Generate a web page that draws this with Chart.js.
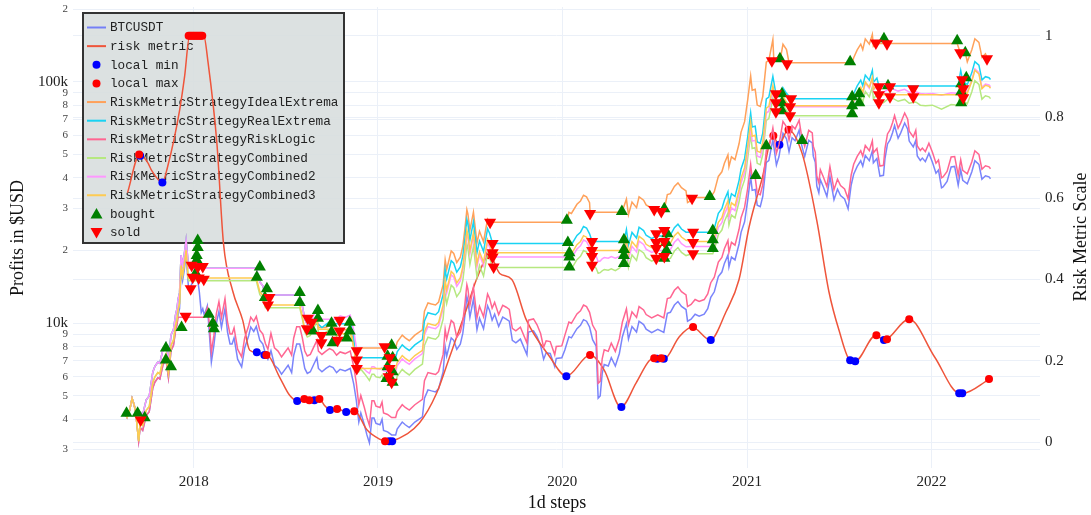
<!DOCTYPE html>
<html>
<head>
<meta charset="utf-8">
<script src="https://cdn.jsdelivr.net/npm/chart.js@4.4.0/dist/chart.umd.min.js"></script>
<style>
  html, body { margin: 0; padding: 0; background: #fff; }
  #wrap { width: 1091px; height: 515px; position: relative; }
</style>
</head>
<body>
<div id="wrap"><canvas id="chart"></canvas></div>
<script>
// price of BTCUSDT (left, log axis)
const btcusdt = [
  ['2017-08-17',4280],['2017-08-22',4080],['2017-08-27',4350],['2017-09-01',4880],['2017-09-05',4600],['2017-09-08',4300],['2017-09-14',3250],['2017-09-17',3700],['2017-09-22',3600],['2017-09-29',4150],
  ['2017-10-05',4300],['2017-10-12',5400],['2017-10-16',5700],['2017-10-22',5950],['2017-10-26',5880],['2017-11-01',6700],['2017-11-07',7100],['2017-11-12',5950],['2017-11-17',7700],['2017-11-22',8100],
  ['2017-11-26',9300],['2017-11-29',9900],['2017-12-01',10800],['2017-12-04',11500],['2017-12-07',16500],['2017-12-10',15000],['2017-12-13',16400],['2017-12-17',19100],['2017-12-22',13800],['2017-12-25',14000],
  ['2017-12-29',14700],['2018-01-03',15200],['2018-01-07',16200],['2018-01-12',13600],['2018-01-16',11100],['2018-01-19',11500],['2018-01-22',10800],['2018-01-28',11800],['2018-02-01',9100],['2018-02-05',6900],
  ['2018-02-10',8100],['2018-02-15',10000],['2018-02-20',11200],['2018-02-25',9600],['2018-03-04',11500],['2018-03-09',9200],['2018-03-14',8200],['2018-03-18',8200],['2018-03-22',8700],['2018-03-29',7100],
  ['2018-04-06',6600],['2018-04-12',7900],['2018-04-20',8900],['2018-04-24',9650],['2018-04-30',9250],['2018-05-05',9700],['2018-05-12',8500],['2018-05-18',8200],['2018-05-23',7500],['2018-05-28',7100],
  ['2018-06-03',7700],['2018-06-10',6700],['2018-06-17',6500],['2018-06-24',6150],['2018-06-30',6400],['2018-07-07',6700],['2018-07-14',6250],['2018-07-18',7350],['2018-07-24',8200],['2018-07-30',8200],
  ['2018-08-04',7400],['2018-08-09',6500],['2018-08-14',6200],['2018-08-20',6300],['2018-08-26',6700],['2018-09-02',7200],['2018-09-05',6500],['2018-09-12',6300],['2018-09-20',6500],['2018-09-27',6650],
  ['2018-10-04',6550],['2018-10-11',6250],['2018-10-18',6450],['2018-10-28',6350],['2018-11-07',6500],['2018-11-14',5600],['2018-11-19',4800],['2018-11-24',3900],['2018-11-28',4250],['2018-12-05',3800],
  ['2018-12-10',3450],['2018-12-15',3200],['2018-12-20',4050],['2018-12-24',4050],['2018-12-28',3850],['2019-01-05',3800],['2019-01-09',4000],['2019-01-12',3600],['2019-01-20',3550],['2019-01-28',3450],
  ['2019-02-05',3450],['2019-02-08',3650],['2019-02-18',3900],['2019-02-24',3800],['2019-03-04',3700],['2019-03-15',3900],['2019-03-30',4100],['2019-04-03',4900],['2019-04-10',5300],['2019-04-17',5250],
  ['2019-04-25',5200],['2019-05-01',5350],['2019-05-10',6300],['2019-05-14',8000],['2019-05-17',7300],['2019-05-26',8700],['2019-05-31',8500],['2019-06-06',7800],['2019-06-13',8200],['2019-06-18',9100],
  ['2019-06-22',10700],['2019-06-26',12900],['2019-06-28',12400],['2019-07-02',10600],['2019-07-09',12600],['2019-07-16',9400],['2019-07-21',10500],['2019-07-29',9500],['2019-08-06',11800],['2019-08-10',11300],
  ['2019-08-15',10300],['2019-08-20',10900],['2019-08-28',9700],['2019-09-05',10600],['2019-09-12',10400],['2019-09-18',10200],['2019-09-24',8500],['2019-10-01',8300],['2019-10-10',8600],['2019-10-23',7400],
  ['2019-10-26',9200],['2019-11-05',9300],['2019-11-12',8800],['2019-11-19',8100],['2019-11-25',7100],['2019-11-30',7550],['2019-12-08',7500],['2019-12-17',6620],['2019-12-20',7150],['2019-12-31',7200],
  ['2020-01-06',7750],['2020-01-14',8800],['2020-01-19',8700],['2020-01-30',9500],['2020-02-06',9800],['2020-02-12',10350],['2020-02-18',10200],['2020-02-24',9650],['2020-03-01',8550],['2020-03-08',8050],
  ['2020-03-12',4900],['2020-03-16',5000],['2020-03-20',6200],['2020-03-24',6750],['2020-04-01',6650],['2020-04-07',7200],['2020-04-15',6650],['2020-04-23',7500],['2020-04-29',8800],['2020-05-07',9980],
  ['2020-05-11',8600],['2020-05-18',9700],['2020-05-27',9200],['2020-06-01',10200],['2020-06-10',9880],['2020-06-15',9450],['2020-06-26',9150],['2020-07-08',9430],['2020-07-20',9160],['2020-07-27',11000],
  ['2020-08-02',11100],['2020-08-10',11900],['2020-08-17',12300],['2020-08-24',11750],['2020-09-02',11400],['2020-09-05',10200],['2020-09-12',10400],['2020-09-20',10900],['2020-09-28',10700],['2020-10-08',10900],
  ['2020-10-15',11500],['2020-10-21',12800],['2020-10-28',13500],['2020-11-05',15600],['2020-11-12',16300],['2020-11-17',17700],['2020-11-24',19150],['2020-11-26',17100],['2020-12-01',18800],['2020-12-08',18300],
  ['2020-12-16',21300],['2020-12-20',23800],['2020-12-27',26300],['2021-01-02',32200],['2021-01-08',40600],['2021-01-11',35500],['2021-01-17',35800],['2021-01-21',30800],['2021-01-27',30400],['2021-02-01',33500],
  ['2021-02-08',46400],['2021-02-13',47200],['2021-02-21',57500],['2021-02-28',45200],['2021-03-05',48900],['2021-03-13',61200],['2021-03-20',58100],['2021-03-25',51300],['2021-03-31',58700],['2021-04-06',57000],
  ['2021-04-14',63000],['2021-04-18',55700],['2021-04-25',49000],['2021-05-03',57200],['2021-05-10',55800],['2021-05-12',49200],['2021-05-16',46400],['2021-05-19',37000],['2021-05-23',34700],['2021-05-26',39300],
  ['2021-06-01',36700],['2021-06-08',33500],['2021-06-14',40500],['2021-06-22',32500],['2021-06-29',35900],['2021-07-05',33800],['2021-07-13',32700],['2021-07-20',29800],['2021-07-26',37300],['2021-07-31',41400],
  ['2021-08-07',44600],['2021-08-14',47100],['2021-08-18',44700],['2021-08-23',49500],['2021-08-31',47100],['2021-09-06',51700],['2021-09-08',46200],['2021-09-15',48100],['2021-09-21',40700],['2021-09-28',41000],
  ['2021-10-01',48100],['2021-10-06',55300],['2021-10-11',57400],['2021-10-16',61500],['2021-10-20',65900],['2021-10-27',58400],['2021-11-01',61300],['2021-11-09',67500],['2021-11-15',63600],['2021-11-18',56800],
  ['2021-11-26',53700],['2021-12-01',57200],['2021-12-04',49300],['2021-12-10',47200],['2021-12-14',48300],['2021-12-20',46700],['2021-12-27',50600],['2022-01-03',46400],['2022-01-10',41800],['2022-01-15',43100],
  ['2022-01-21',36400],['2022-01-24',36700],['2022-02-01',38700],['2022-02-09',44400],['2022-02-16',44600],['2022-02-23',37300],['2022-02-28',43200],['2022-03-04',39100],['2022-03-13',37800],['2022-03-22',42400],
  ['2022-03-28',47100],['2022-04-05',45500],['2022-04-11',39500],['2022-04-18',40800],['2022-04-25',40400],['2022-04-28',39700]
];

// risk metric (right axis, 0..1)
const riskMetric = [
  ['2017-08-23',0.614],['2017-09-16',0.708],['2017-10-02',0.688],['2017-10-10',0.668],['2017-10-31',0.639],['2017-11-10',0.676],['2017-12-04',0.816],['2017-12-14',0.90],['2017-12-24',1.0],['2018-01-21',1.0],
  ['2018-01-29',0.939],['2018-02-16',0.735],['2018-03-01',0.489],['2018-03-19',0.373],['2018-04-08',0.300],['2018-04-22',0.226],['2018-05-06',0.221],['2018-05-22',0.214],['2018-05-26',0.214],['2018-06-20',0.160],
  ['2018-07-10',0.115],['2018-07-26',0.101],['2018-08-09',0.106],['2018-08-19',0.103],['2018-08-29',0.103],['2018-09-07',0.106],['2018-09-17',0.090],['2018-09-29',0.079],['2018-10-13',0.081],['2018-10-31',0.074],
  ['2018-11-16',0.076],['2018-12-10',0.030],['2019-01-04',0.007],['2019-01-16',0.002],['2019-01-24',0.0],['2019-01-30',0.002],['2019-03-24',0.047],['2019-04-27',0.12],['2019-05-23',0.21],['2019-06-26',0.33],
  ['2019-07-15',0.40],['2019-08-10',0.46],['2019-08-30',0.415],['2019-09-23',0.40],['2019-10-22',0.30],['2019-12-07',0.21],['2020-01-09',0.162],['2020-02-25',0.214],['2020-03-24',0.177],['2020-04-26',0.086],
  ['2020-05-26',0.145],['2020-06-21',0.20],['2020-07-01',0.206],['2020-07-07',0.205],['2020-07-15',0.206],['2020-07-21',0.205],['2020-08-19',0.258],['2020-09-14',0.283],['2020-10-20',0.251],['2020-11-20',0.32],
  ['2020-12-16',0.40],['2021-01-05',0.53],['2021-01-31',0.65],['2021-02-21',0.754],['2021-03-05',0.732],['2021-03-23',0.769],['2021-04-20',0.71],['2021-05-19',0.545],['2021-06-12',0.37],['2021-07-02',0.275],
  ['2021-07-24',0.201],['2021-08-03',0.199],['2021-09-13',0.263],['2021-09-29',0.251],['2021-10-05',0.253],['2021-11-18',0.302],['2022-01-07',0.21],['2022-02-26',0.120],['2022-03-04',0.120],['2022-04-26',0.155]
];

const localMin = [
  ['2017-09-17',0.705],['2017-10-31',0.639],['2018-05-06',0.221],['2018-05-21',0.214],['2018-07-25',0.101],['2018-08-28',0.103],['2018-09-28',0.079],['2018-10-30',0.074],['2019-01-23',0.002],['2019-01-29',0.002],
  ['2020-01-09',0.162],['2020-04-27',0.086],['2020-07-07',0.205],['2020-07-20',0.205],['2020-10-21',0.251],['2021-03-06',0.732],['2021-07-24',0.201],['2021-08-03',0.199],['2021-09-29',0.251],['2022-02-25',0.120],['2022-03-03',0.120]
];

const localMax = [
  ['2017-09-15',0.708],['2017-12-22',1.0],['2017-12-25',1.0],['2017-12-28',1.0],['2017-12-31',1.0],['2018-01-03',1.0],['2018-01-06',1.0],['2018-01-09',1.0],['2018-01-12',1.0],['2018-01-15',1.0],['2018-01-18',1.0],
  ['2018-05-25',0.214],['2018-08-08',0.106],['2018-08-18',0.103],['2018-09-07',0.106],['2018-10-12',0.081],['2018-11-15',0.076],['2019-01-15',0.002],['2019-08-09',0.46],['2020-02-25',0.214],['2020-07-01',0.206],
  ['2020-07-15',0.206],['2020-09-16',0.283],['2021-02-22',0.754],['2021-03-24',0.769],['2021-09-14',0.263],['2021-10-05',0.253],['2021-11-18',0.302],['2022-04-25',0.155]
];

const idealExtrema = [
  ['2017-08-17',4280],['2017-08-22',4080],['2017-08-27',4350],['2017-09-01',4880],['2017-09-05',4600],['2017-09-08',4300],['2017-09-17',4300],['2017-09-22',4180],['2017-09-29',4820],['2017-10-05',5000],
  ['2017-10-12',6270],['2017-10-16',6620],['2017-10-22',6910],['2017-10-26',6830],['2017-11-01',7790],['2017-11-07',8250],['2017-11-12',6910],['2017-11-17',8950],['2017-11-22',9410],['2017-11-26',10810],
  ['2017-11-29',11500],['2017-12-01',12550],['2017-12-04',13360],['2017-12-07',19170],['2017-12-10',17430],['2017-12-13',19060],['2017-12-17',22190],['2017-12-22',16900],
  ['2018-05-05',16900],['2018-05-12',14810],['2018-05-18',14290],['2018-05-23',13100],
  ['2018-07-24',13100],['2018-07-30',13100],['2018-08-04',11820],['2018-08-09',10390],['2018-08-14',9900],['2018-08-26',9900],['2018-09-02',10640],['2018-09-05',9600],['2018-09-20',9600],['2018-09-27',9820],
  ['2018-10-04',9670],['2018-10-11',9230],['2018-10-18',9530],['2018-10-28',9380],['2018-11-07',9600],['2018-11-14',8270],['2018-11-15',7900],
  ['2019-02-05',7900],['2019-02-08',8360],['2019-02-18',8930],['2019-02-24',8700],['2019-03-04',8470],['2019-03-15',8930],['2019-03-30',9390],['2019-04-03',11220],['2019-04-10',12140],['2019-04-17',12020],
  ['2019-04-25',11910],['2019-05-01',12250],['2019-05-10',14430],['2019-05-14',18320],['2019-05-17',16720],['2019-05-26',19920],['2019-05-31',19470],['2019-06-06',17860],['2019-06-13',18780],['2019-06-18',20840],
  ['2019-06-22',24500],['2019-06-26',29540],['2019-06-28',28400],['2019-07-02',24270],['2019-07-09',28850],['2019-07-16',21530],['2019-07-21',24050],['2019-07-29',21760],['2019-08-06',27020],['2019-08-11',26200],
  ['2020-01-10',26200],['2020-01-14',28820],['2020-01-19',28490],['2020-01-30',31110],['2020-02-06',32100],['2020-02-12',33900],['2020-02-18',33400],['2020-02-24',31600],['2020-02-25',28800],
  ['2020-04-28',28800],['2020-05-07',32660],['2020-05-11',28150],['2020-05-18',31750],['2020-05-27',30110],['2020-06-01',33380],['2020-06-10',32340],['2020-06-15',30930],['2020-06-26',29950],['2020-07-01',29600],
  ['2020-07-21',29600],['2020-07-27',34100],['2020-08-02',34410],['2020-08-10',36890],['2020-08-17',38130],['2020-08-24',36430],['2020-09-02',35340],['2020-09-05',31620],['2020-09-12',32240],['2020-09-14',33200],
  ['2020-10-19',33200],['2020-10-21',33280],['2020-10-28',35100],['2020-11-05',40560],['2020-11-12',42380],['2020-11-17',46020],['2020-11-24',49790],['2020-11-26',44460],['2020-12-01',48880],['2020-12-08',47580],
  ['2020-12-16',55380],['2020-12-20',61880],['2020-12-27',68380],['2021-01-02',83720],['2021-01-08',105560],['2021-01-11',92300],['2021-01-17',93080],['2021-01-21',80080],['2021-01-27',79040],['2021-02-01',87100],
  ['2021-02-08',120640],['2021-02-13',122720],['2021-02-21',149500],['2021-02-23',122000],
  ['2021-03-07',122000],['2021-03-13',143000],['2021-03-20',136000],['2021-03-25',120000],
  ['2021-07-28',120000],['2021-07-31',125800],['2021-08-07',135600],['2021-08-14',143200],['2021-08-18',135900],['2021-08-23',150500],['2021-08-31',143200],['2021-09-06',157200],['2021-09-08',140400],['2021-09-13',144000],
  ['2022-02-21',144000],['2022-02-23',140000],['2022-02-27',132000],['2022-03-09',132000],['2022-03-13',121000],['2022-03-22',135700],['2022-03-28',150700],['2022-04-05',145600],['2022-04-11',126400],['2022-04-18',130600],
  ['2022-04-21',126000],['2022-04-28',126000]
];

const realExtrema = [
  ['2017-08-17',4280],['2017-08-22',4080],['2017-08-27',4350],['2017-09-01',4880],['2017-09-05',4600],['2017-09-08',4300],['2017-09-17',4300],['2017-09-22',4180],['2017-09-29',4820],['2017-10-05',5000],
  ['2017-10-12',6270],['2017-10-16',6620],['2017-10-22',6910],['2017-10-26',6830],['2017-11-01',7790],['2017-11-07',8250],['2017-11-12',6910],['2017-11-17',8950],['2017-11-22',9410],['2017-11-26',10810],
  ['2017-11-29',11500],['2017-12-01',12550],['2017-12-04',13360],['2017-12-07',19170],['2017-12-10',17430],['2017-12-13',19060],['2017-12-17',22190],['2017-12-22',16900],
  ['2018-05-05',16900],['2018-05-12',14810],['2018-05-18',14290],['2018-05-23',13100],
  ['2018-07-24',13100],['2018-07-30',13100],['2018-08-04',11820],['2018-08-09',10390],['2018-08-14',9900],['2018-09-05',9900],['2018-09-12',9600],['2018-09-20',9900],['2018-09-27',10130],['2018-10-01',9950],
  ['2018-10-28',9950],['2018-11-07',10190],['2018-11-14',8780],['2018-11-17',7200],
  ['2019-01-30',7200],['2019-02-05',7200],['2019-02-08',7620],['2019-02-18',8140],['2019-02-24',7930],['2019-03-04',7720],['2019-03-15',8140],['2019-03-30',8560],['2019-04-03',10230],['2019-04-10',11060],
  ['2019-04-17',10960],['2019-04-25',10850],['2019-05-01',11170],['2019-05-10',13150],['2019-05-14',16700],['2019-05-17',15240],['2019-05-26',18160],['2019-05-31',17740],['2019-06-06',16280],['2019-06-13',17110],
  ['2019-06-18',18990],['2019-06-22',22330],['2019-06-26',26920],['2019-06-28',25880],['2019-07-02',22120],['2019-07-09',26300],['2019-07-16',19620],['2019-07-21',21910],['2019-07-29',19830],['2019-08-06',24630],
  ['2019-08-10',23580],['2019-08-16',21400],
  ['2020-01-14',21400],['2020-01-19',21160],['2020-01-30',23100],['2020-02-06',23830],['2020-02-12',25170],['2020-02-18',24810],['2020-02-24',23470],['2020-02-29',21800],
  ['2020-05-02',21800],['2020-05-07',24450],['2020-05-11',21070],['2020-05-18',23770],['2020-05-27',22540],['2020-06-01',24990],['2020-06-10',24210],['2020-06-15',23150],['2020-06-26',22420],['2020-07-05',23000],
  ['2020-07-27',23000],['2020-08-02',23200],['2020-08-10',24870],['2020-08-17',25710],['2020-08-24',24560],['2020-09-02',23830],['2020-09-14',23800],
  ['2020-10-25',23800],['2020-10-28',24710],['2020-11-05',28550],['2020-11-12',29830],['2020-11-17',32390],['2020-11-24',35040],['2020-11-26',31290],['2020-12-01',34400],['2020-12-08',33490],['2020-12-16',38980],
  ['2020-12-20',43550],['2020-12-27',48130],['2021-01-02',58930],['2021-01-08',74300],['2021-01-11',64970],['2021-01-17',65510],['2021-01-21',56360],['2021-01-27',55630],['2021-02-01',61310],['2021-02-08',84910],
  ['2021-02-13',86380],['2021-02-21',105200],['2021-02-27',89200],
  ['2021-03-11',89200],['2021-03-13',94400],['2021-03-20',89600],['2021-03-29',85100],
  ['2021-07-28',85100],['2021-07-31',89200],['2021-08-07',96100],['2021-08-14',101500],['2021-08-18',96300],['2021-08-23',106600],['2021-08-31',101500],['2021-09-06',111400],['2021-09-08',99500],['2021-09-15',103600],
  ['2021-09-19',96000],
  ['2022-02-23',96000],['2022-02-28',111200],['2022-03-04',100600],['2022-03-13',97300],['2022-03-22',109100],['2022-03-28',121200],['2022-04-05',117100],['2022-04-11',101700],['2022-04-18',105000],['2022-04-25',104000],
  ['2022-04-28',102200]
];

const riskLogic = [
  ['2017-08-17',4280],['2017-08-22',4080],['2017-08-27',4350],['2017-09-01',4880],['2017-09-05',4600],['2017-09-08',4300],['2017-09-14',3250],['2017-09-17',3700],['2017-09-22',3600],['2017-09-29',4150],
  ['2017-10-05',4300],['2017-10-12',5400],['2017-10-16',5700],['2017-10-22',5950],['2017-10-26',5880],['2017-11-01',6700],['2017-11-07',7100],['2017-11-12',5950],['2017-11-17',7700],['2017-11-22',8100],
  ['2017-11-26',9300],['2017-11-29',9900],['2017-12-01',10600],['2018-01-22',10600],['2018-01-28',11580],['2018-02-01',10000],['2018-02-05',7590],['2018-02-10',8910],['2018-02-15',11000],['2018-02-20',12300],
  ['2018-02-25',10560],['2018-03-04',12650],['2018-03-09',10120],['2018-03-14',9020],['2018-03-18',9020],['2018-03-22',9570],['2018-03-29',7810],['2018-04-06',7260],['2018-04-12',8690],['2018-04-20',9790],
  ['2018-04-24',10600],['2018-04-30',10180],['2018-05-05',10670],['2018-05-12',9350],['2018-05-18',9020],['2018-05-23',8250],['2018-05-28',7810],['2018-06-03',9090],['2018-06-10',7910],['2018-06-17',7670],
  ['2018-06-24',7260],['2018-06-30',7550],['2018-07-07',7910],['2018-07-14',7380],['2018-07-18',8670],['2018-07-24',9680],['2018-07-30',9680],['2018-08-04',8730],['2018-08-09',7670],['2018-08-14',7320],
  ['2018-08-20',7430],['2018-08-26',7910],['2018-09-02',8500],['2018-09-05',7670],['2018-09-12',7430],['2018-09-20',7670],['2018-09-27',7850],['2018-10-04',7730],['2018-10-11',7380],['2018-10-18',7610],
  ['2018-10-28',7490],['2018-11-07',7670],['2018-11-14',6610],['2018-11-19',5660],['2018-11-24',4600],['2018-11-28',5020],['2018-12-05',4480],['2018-12-10',4070],['2018-12-15',3780],['2018-12-20',4780],
  ['2018-12-24',4780],['2018-12-28',4540],['2019-01-05',4480],['2019-01-09',4720],['2019-01-12',4250],['2019-01-20',4190],['2019-01-28',4070],['2019-02-05',4070],['2019-02-08',4310],['2019-02-18',4600],
  ['2019-02-24',4480],['2019-03-04',4370],['2019-03-15',4600],['2019-03-30',4840],['2019-04-03',5780],['2019-04-10',6250],['2019-04-17',6200],['2019-04-25',6140],['2019-05-01',6310],['2019-05-10',7430],
  ['2019-05-14',9440],['2019-05-17',8610],['2019-05-26',10270],['2019-05-31',10030],['2019-06-06',8740],['2019-06-13',9180],['2019-06-18',10190],['2019-06-22',11980],['2019-06-26',14450],['2019-06-28',13890],
  ['2019-07-02',11870],['2019-07-09',14110],['2019-07-16',10530],['2019-07-21',11760],['2019-07-29',10640],['2019-08-06',13220],['2019-08-10',12660],['2019-08-15',11540],['2019-08-20',12210],['2019-08-28',10860],
  ['2019-09-05',11870],['2019-09-12',11650],['2019-09-18',11420],['2019-09-24',9520],['2019-10-01',9300],['2019-10-10',9630],['2019-10-23',8290],['2019-10-26',10300],['2019-11-05',10420],['2019-11-12',9860],
  ['2019-11-19',9070],['2019-11-25',7950],['2019-11-30',8460],['2019-12-08',8400],['2019-12-17',7410],['2019-12-20',8010],['2019-12-31',8060],['2020-01-06',8910],['2020-01-14',10120],['2020-01-19',10000],
  ['2020-01-30',10930],['2020-02-06',11270],['2020-02-12',11900],['2020-02-18',11730],['2020-02-24',11100],['2020-03-01',9830],['2020-03-08',9260],['2020-03-12',5640],['2020-03-16',5750],['2020-03-20',7130],
  ['2020-03-24',7760],['2020-04-01',7650],['2020-04-07',8280],['2020-04-15',7650],['2020-04-23',8630],['2020-04-29',10120],['2020-05-07',11480],['2020-05-11',9890],['2020-05-18',11160],['2020-05-27',10580],
  ['2020-06-01',11730],['2020-06-10',11360],['2020-06-15',10870],['2020-06-26',10520],['2020-07-08',10840],['2020-07-20',10530],['2020-07-27',12650],['2020-08-02',12770],['2020-08-10',13690],['2020-08-17',14150],
  ['2020-08-24',13510],['2020-09-02',13110],['2020-09-05',11730],['2020-09-12',11960],['2020-09-20',12540],['2020-09-28',12310],['2020-10-08',12540],['2020-10-15',13230],['2020-10-21',14720],['2020-10-28',15530],
  ['2020-11-05',17940],['2020-11-12',18750],['2020-11-17',20360],['2020-11-24',22020],['2020-11-26',19670],['2020-12-01',21620],['2020-12-08',21050],['2020-12-16',24500],['2020-12-20',27370],['2020-12-27',30250],
  ['2021-01-02',36060],['2021-01-08',45470],['2021-01-11',39760],['2021-01-17',40100],['2021-01-21',34500],['2021-01-27',34050],['2021-02-01',37520],['2021-02-08',51970],['2021-02-13',52860],['2021-02-21',64400],
  ['2021-02-28',50620],['2021-03-05',54770],['2021-03-13',68540],['2021-03-20',65070],['2021-03-25',57460],['2021-03-31',65740],['2021-04-06',63840],['2021-04-14',69300],['2021-04-18',61270],['2021-04-25',53900],
  ['2021-05-03',62920],['2021-05-10',61380],['2021-05-12',54120],['2021-05-16',51040],['2021-05-19',40700],['2021-05-23',38170],['2021-05-26',43230],['2021-06-01',40370],['2021-06-08',36850],['2021-06-14',44550],
  ['2021-06-22',35750],['2021-06-29',39490],['2021-07-05',37180],['2021-07-13',35970],['2021-07-20',32780],['2021-07-26',41030],['2021-07-31',45540],['2021-08-07',49060],['2021-08-14',51810],['2021-08-18',49170],
  ['2021-08-23',54450],['2021-08-31',51810],['2021-09-06',56870],['2021-09-08',50820],['2021-09-15',52910],['2021-09-21',44770],['2021-09-28',45100],['2021-10-01',52910],['2021-10-06',60830],['2021-10-11',63140],
  ['2021-10-16',67650],['2021-10-20',72490],['2021-10-27',64240],['2021-11-01',67430],['2021-11-09',74250],['2021-11-15',69960],['2021-11-18',62480],['2021-11-26',59070],['2021-12-01',62920],['2021-12-04',54230],
  ['2021-12-10',51920],['2021-12-14',53130],['2021-12-20',51370],['2021-12-27',55660],['2022-01-03',51040],['2022-01-10',45980],['2022-01-15',47410],['2022-01-21',40040],['2022-01-24',40370],['2022-02-01',42570],
  ['2022-02-09',48840],['2022-02-16',49060],['2022-02-23',41030],['2022-02-28',47520],['2022-03-04',43010],['2022-03-13',41580],['2022-03-22',46640],['2022-03-28',51810],['2022-04-05',50050],['2022-04-11',43450],
  ['2022-04-18',44880],['2022-04-25',44440],['2022-04-28',43670]
];

const combined = [
  ['2017-08-17',4280],['2017-08-22',4080],['2017-08-27',4350],['2017-09-01',4880],['2017-09-05',4600],['2017-09-08',4300],['2017-09-14',3250],['2017-09-17',3890],['2017-09-22',3780],['2017-09-29',4360],
  ['2017-10-05',4520],['2017-10-12',5670],['2017-10-16',5990],['2017-10-22',6250],['2017-10-26',6170],['2017-11-01',7040],['2017-11-07',7460],['2017-11-12',6250],['2017-11-17',8090],['2017-11-22',8510],
  ['2017-11-26',9770],['2017-11-29',10400],['2017-12-01',11340],['2017-12-04',12080],['2017-12-07',17330],['2017-12-10',15750],['2017-12-13',17220],['2017-12-17',20060],['2017-12-22',15000],
  ['2018-05-05',15000],['2018-05-12',13140],['2018-05-18',12680],['2018-05-23',11600],
  ['2018-07-24',11600],['2018-07-30',11600],['2018-08-04',10470],['2018-08-09',9200],['2018-08-14',8770],['2018-08-20',8910],['2018-08-26',9480],['2018-09-02',10190],['2018-09-05',9200],['2018-09-12',8920],
  ['2018-09-20',9200],['2018-09-27',9410],['2018-10-04',9270],['2018-10-11',8850],['2018-10-18',9130],['2018-10-28',8990],['2018-11-07',9200],['2018-11-14',7930],['2018-11-19',6800],['2018-11-24',6300],
  ['2018-11-28',6450],['2018-12-05',6200],['2018-12-10',6000],['2018-12-15',5800],['2018-12-20',6150],['2018-12-24',6150],['2018-12-28',6000],['2019-01-05',5950],['2019-01-09',6100],['2019-01-12',5800],
  ['2019-01-20',5750],['2019-01-28',5700],
  ['2019-02-05',5700],['2019-02-08',6030],['2019-02-18',6440],['2019-02-24',6280],['2019-03-04',6110],['2019-03-15',6440],['2019-03-30',6770],['2019-04-03',8090],['2019-04-10',8760],['2019-04-17',8670],
  ['2019-04-25',8590],['2019-05-01',8840],['2019-05-10',10410],['2019-05-14',13220],['2019-05-17',12060],['2019-05-26',14370],['2019-05-31',14040],['2019-06-06',12890],['2019-06-13',13550],['2019-06-18',15030],
  ['2019-06-22',17680],['2019-06-26',21310],['2019-06-28',20480],['2019-07-02',17510],['2019-07-09',20810],['2019-07-16',15530],['2019-07-21',17350],['2019-07-29',15690],['2019-08-06',19490],['2019-08-10',18670],
  ['2019-08-16',17000],
  ['2020-01-14',17000],['2020-01-19',16810],['2020-01-30',18350],['2020-02-06',18930],['2020-02-12',20000],['2020-02-18',19710],['2020-02-24',18640],['2020-02-29',17400],['2020-03-08',16900],['2020-03-12',16100],
  ['2020-03-16',16200],['2020-03-20',16500],['2020-03-24',16700],['2020-04-01',16600],['2020-04-07',16800],['2020-04-15',16500],['2020-04-23',16900],['2020-05-02',17600],['2020-05-07',19740],['2020-05-11',17010],
  ['2020-05-18',19190],['2020-05-27',18200],['2020-06-01',20170],['2020-06-10',19540],['2020-06-15',18690],['2020-06-26',18100],['2020-07-05',18400],
  ['2020-07-27',18400],['2020-08-02',18570],['2020-08-10',19910],['2020-08-17',20580],['2020-08-24',19660],['2020-09-02',19070],['2020-09-14',19400],
  ['2020-10-25',19400],['2020-10-28',20140],['2020-11-05',23280],['2020-11-12',24320],['2020-11-17',26410],['2020-11-24',28570],['2020-11-26',25510],['2020-12-01',28050],['2020-12-08',27300],['2020-12-16',31780],
  ['2020-12-20',35510],['2020-12-27',39240],['2021-01-02',48040],['2021-01-08',60580],['2021-01-11',52970],['2021-01-17',53410],['2021-01-21',45950],['2021-01-27',45360],['2021-02-01',49980],['2021-02-08',69230],
  ['2021-02-13',70420],['2021-02-21',85790],['2021-02-27',75200],
  ['2021-03-11',75200],['2021-03-13',80300],['2021-03-20',76200],['2021-03-27',72400],
  ['2021-07-28',72400],['2021-07-31',76180],['2021-08-07',82060],['2021-08-14',86660],['2021-08-18',82250],['2021-08-23',91080],['2021-08-31',86660],['2021-09-06',95130],['2021-09-08',85010],['2021-09-15',88500],
  ['2021-09-19',83000],['2021-09-28',82000],['2021-10-06',84500],['2021-10-16',85500],['2021-10-27',83000],['2021-11-09',84500],['2021-11-18',81500],['2021-12-01',82500],['2021-12-10',80000],['2021-12-20',79500],
  ['2022-01-03',80000],['2022-01-21',77000],['2022-02-09',80500],['2022-02-23',80000],['2022-02-28',92660],['2022-03-04',83870],['2022-03-13',81080],['2022-03-22',90950],['2022-03-28',101000],['2022-04-05',97600],
  ['2022-04-11',84730],['2022-04-18',87520],['2022-04-25',86660],['2022-04-28',85160]
];

const combined2 = [
  ['2017-08-17',4280],['2017-08-22',4080],['2017-08-27',4350],['2017-09-01',4880],['2017-09-05',4600],['2017-09-08',4300],['2017-09-17',4300],['2017-09-22',4180],['2017-09-29',4820],['2017-10-05',5000],
  ['2017-10-12',6270],['2017-10-16',6620],['2017-10-22',6910],['2017-10-26',6830],['2017-11-01',7790],['2017-11-07',8250],['2017-11-12',6910],['2017-11-17',8950],['2017-11-22',9410],['2017-11-26',10810],
  ['2017-11-29',11500],['2017-12-01',12550],['2017-12-04',13360],['2017-12-07',19170],['2017-12-10',17430],['2017-12-13',19060],['2017-12-17',22190],['2017-12-22',16900],
  ['2018-05-05',16900],['2018-05-12',14810],['2018-05-18',14290],['2018-05-23',13100],
  ['2018-07-24',13100],['2018-07-30',13100],['2018-08-04',11820],['2018-08-09',10390],['2018-08-14',9920],['2018-08-20',10080],['2018-08-26',10720],['2018-09-02',11520],['2018-09-05',10400],['2018-10-11',10400],
  ['2018-10-18',10730],['2018-10-28',10570],['2018-11-07',10820],['2018-11-14',9320],['2018-11-19',7990],['2018-11-24',6500],['2018-11-28',6650],['2018-12-05',6450],['2018-12-10',6300],['2018-12-15',6200],
  ['2018-12-20',6600],['2018-12-24',6600],['2018-12-28',6500],['2019-01-05',6450],['2019-01-09',6550],['2019-01-12',6350],['2019-01-20',6300],['2019-01-28',6300],
  ['2019-02-05',6300],['2019-02-08',6670],['2019-02-18',7120],['2019-02-24',6940],['2019-03-04',6760],['2019-03-15',7120],['2019-03-30',7490],['2019-04-03',8950],['2019-04-10',9680],['2019-04-17',9590],
  ['2019-04-25',9500],['2019-05-01',9770],['2019-05-10',11500],['2019-05-14',14610],['2019-05-17',13330],['2019-05-26',15890],['2019-05-31',15520],['2019-06-06',14240],['2019-06-13',14970],['2019-06-18',16620],
  ['2019-06-22',19540],['2019-06-26',23560],['2019-06-28',22640],['2019-07-02',19360],['2019-07-09',23010],['2019-07-16',17160],['2019-07-21',19170],['2019-07-29',17350],['2019-08-06',21550],['2019-08-10',20630],
  ['2019-08-16',18800],
  ['2020-01-14',18800],['2020-01-19',18590],['2020-01-30',20290],['2020-02-06',20930],['2020-02-12',22110],['2020-02-18',21790],['2020-02-24',20610],['2020-02-29',19300],['2020-03-08',19000],['2020-03-12',18000],
  ['2020-03-16',18100],['2020-03-20',18500],['2020-03-24',18700],['2020-04-01',18600],['2020-04-07',18900],['2020-04-15',18600],['2020-04-23',18900],['2020-05-02',19100],['2020-05-07',21420],['2020-05-11',18460],
  ['2020-05-18',20820],['2020-05-27',19740],['2020-06-01',21890],['2020-06-10',21200],['2020-06-15',20280],['2020-06-26',19640],['2020-07-05',20000],
  ['2020-07-27',20000],['2020-08-02',20180],['2020-08-10',21640],['2020-08-17',22360],['2020-08-24',21360],['2020-09-02',20730],['2020-09-14',20800],
  ['2020-10-25',20800],['2020-10-28',21600],['2020-11-05',24960],['2020-11-12',26080],['2020-11-17',28320],['2020-11-24',30640],['2020-11-26',27360],['2020-12-01',30080],['2020-12-08',29280],['2020-12-16',34080],
  ['2020-12-20',38080],['2020-12-27',42080],['2021-01-02',51520],['2021-01-08',64960],['2021-01-11',56800],['2021-01-17',57280],['2021-01-21',49280],['2021-01-27',48640],['2021-02-01',53600],['2021-02-08',74240],
  ['2021-02-13',75520],['2021-02-21',92000],['2021-02-27',81000],
  ['2021-03-11',81000],['2021-03-13',85800],['2021-03-20',81400],['2021-03-27',78800],
  ['2021-07-28',78800],['2021-07-31',82590],['2021-08-07',88980],['2021-08-14',93970],['2021-08-18',89180],['2021-08-23',98750],['2021-08-31',93970],['2021-09-06',103100],['2021-09-08',92170],['2021-09-15',95960],
  ['2021-09-19',91000],['2021-09-28',90500],['2021-10-06',92500],['2021-10-16',93500],['2021-10-27',91500],['2021-11-09',93000],['2021-11-18',90500],['2021-12-01',91000],['2021-12-10',89500],['2021-12-20',89000],
  ['2022-01-03',89500],['2022-01-21',88000],['2022-02-09',90000],['2022-02-23',89500],['2022-02-28',103700],['2022-03-04',93840],['2022-03-13',90720],['2022-03-22',101800],['2022-03-28',113000],['2022-04-05',109200],
  ['2022-04-11',94800],['2022-04-18',97920],['2022-04-25',96960],['2022-04-28',95280]
];

const combined3 = [
  ['2017-08-17',4280],['2017-08-22',4080],['2017-08-27',4350],['2017-09-01',4880],['2017-09-05',4600],['2017-09-08',4300],['2017-09-14',3250],['2017-09-17',3890],['2017-09-22',3780],['2017-09-29',4360],
  ['2017-10-05',4520],['2017-10-12',5670],['2017-10-16',5990],['2017-10-22',6250],['2017-10-26',6170],['2017-11-01',7040],['2017-11-07',7460],['2017-11-12',6250],['2017-11-17',8090],['2017-11-22',8510],
  ['2017-11-26',9770],['2017-11-29',10400],['2017-12-01',11340],['2017-12-04',12080],['2017-12-07',17330],['2017-12-10',15750],['2017-12-13',17220],['2017-12-17',20060],['2017-12-21',15400],
  ['2018-05-05',15400],['2018-05-12',13500],['2018-05-18',13020],['2018-05-23',11900],
  ['2018-07-24',11900],['2018-07-30',11900],['2018-08-04',10740],['2018-08-09',9430],['2018-08-14',9000],['2018-08-20',9150],['2018-08-26',9730],['2018-09-02',10450],['2018-09-05',9440],['2018-09-27',9440],
  ['2018-10-04',9300],['2018-10-11',8880],['2018-10-18',9160],['2018-10-28',9020],['2018-11-07',9230],['2018-11-14',7950],['2018-11-19',6800],['2018-11-20',6500],
  ['2019-01-30',6500],['2019-02-05',6500],['2019-02-08',6880],['2019-02-18',7350],['2019-02-24',7160],['2019-03-04',6970],['2019-03-15',7350],['2019-03-30',7720],['2019-04-03',9230],['2019-04-10',9990],
  ['2019-04-17',9890],['2019-04-25',9800],['2019-05-01',10080],['2019-05-10',11870],['2019-05-14',15070],['2019-05-17',13750],['2019-05-26',16390],['2019-05-31',16010],['2019-06-06',14700],['2019-06-13',15450],
  ['2019-06-18',17140],['2019-06-22',20160],['2019-06-26',24300],['2019-06-28',23360],['2019-07-02',19970],['2019-07-09',23740],['2019-07-16',17710],['2019-07-21',19780],['2019-07-29',17900],['2019-08-06',22230],
  ['2019-08-10',21290],['2019-08-16',19600],
  ['2020-01-14',19600],['2020-01-19',19380],['2020-01-30',21160],['2020-02-06',21820],['2020-02-12',23050],['2020-02-18',22720],['2020-02-24',21490],['2020-02-29',20000],
  ['2020-05-02',20000],['2020-05-07',22430],['2020-05-11',19330],['2020-05-18',21800],['2020-05-27',20670],['2020-06-01',22920],['2020-06-10',22200],['2020-06-15',21230],['2020-06-26',20560],['2020-07-05',21300],
  ['2020-07-27',21300],['2020-08-02',21490],['2020-08-10',23040],['2020-08-17',23810],['2020-08-24',22750],['2020-09-02',22070],['2020-09-14',21800],
  ['2020-10-25',21800],['2020-10-28',22640],['2020-11-05',26160],['2020-11-12',27340],['2020-11-17',29680],['2020-11-24',32110],['2020-11-26',28680],['2020-12-01',31530],['2020-12-08',30690],['2020-12-16',35720],
  ['2020-12-20',39910],['2020-12-27',44100],['2021-01-02',54000],['2021-01-08',68090],['2021-01-11',59530],['2021-01-17',60040],['2021-01-21',51650],['2021-01-27',50980],['2021-02-01',56180],['2021-02-08',77810],
  ['2021-02-13',79150],['2021-02-21',96430],['2021-02-27',81900],
  ['2021-03-11',81900],['2021-03-13',86700],['2021-03-20',82300],['2021-03-27',79600],
  ['2021-07-28',79600],['2021-07-31',83420],['2021-08-07',89870],['2021-08-14',94910],['2021-08-18',90070],['2021-08-23',99740],['2021-08-31',94910],['2021-09-06',104200],['2021-09-08',93090],['2021-09-15',96920],
  ['2021-09-19',88400],
  ['2022-02-23',88400],['2022-02-28',102400],['2022-03-04',92670],['2022-03-13',89590],['2022-03-22',100500],['2022-03-28',111600],['2022-04-05',107800],['2022-04-11',93620],['2022-04-18',96700],['2022-04-25',95750],
  ['2022-04-28',94090]
];

const bought = [
  ['2017-08-21',4240],['2017-09-12',4240],['2017-09-26',4060],['2017-11-07',7900],['2017-11-07',7050],['2017-11-17',6600],['2017-12-08',9600],['2018-01-05',16100],['2018-01-07',18300],['2018-01-07',19100],
  ['2018-01-09',20600],['2018-01-09',22000],['2018-01-31',10900],['2018-02-08',10000],['2018-02-10',9500],['2018-05-06',15500],['2018-05-12',17100],['2018-05-22',12800],['2018-05-26',13900],['2018-07-30',13400],
  ['2018-07-30',12200],['2018-08-25',9300],['2018-09-04',11300],['2018-09-04',10500],['2018-10-01',10000],['2018-10-01',9200],['2018-10-03',8300],['2018-10-31',8700],['2018-11-06',10100],['2018-11-06',9300],
  ['2019-01-18',5900],['2019-01-20',7300],['2019-01-20',6600],['2019-01-28',8100],['2019-01-30',7200],['2019-01-30',6300],['2019-01-30',5700],
  ['2020-01-10',26700],['2020-01-12',21600],['2020-01-15',19600],['2020-01-15',18800],['2020-01-15',17100],['2020-04-28',29000],['2020-05-02',22200],['2020-05-02',20200],['2020-05-02',19100],['2020-05-02',17700],
  ['2020-07-21',29800],['2020-07-21',18600],['2020-07-25',21600],['2020-07-25',20000],['2020-07-27',23500],['2020-10-19',33500],['2020-10-25',24200],['2020-10-25',22200],['2020-10-25',20400],
  ['2021-01-18',40900],['2021-02-08',54400],['2021-03-07',124500],['2021-03-11',89200],['2021-03-11',81900],['2021-03-11',75900],['2021-04-20',57100],['2021-07-24',120900],['2021-07-28',86700],['2021-07-28',79600],
  ['2021-07-28',73800],['2021-08-11',89200],['2021-08-11',81900],['2021-09-29',150600],['2021-10-07',96300],['2022-02-21',147700],['2022-03-01',98100],['2022-03-01',91000],['2022-03-01',81900],['2022-03-09',131800],
  ['2022-03-11',103900]
];

const sold = [
  ['2017-09-18',3980],['2017-12-16',10700],['2017-12-26',13900],['2017-12-28',17400],['2017-12-30',15500],['2018-01-09',17100],['2018-01-11',15400],['2018-01-19',17200],['2018-01-21',15200],
  ['2018-05-28',11900],['2018-05-31',12800],['2018-08-13',9500],['2018-08-15',10500],['2018-08-23',10100],['2018-09-11',8900],['2018-09-11',8300],['2018-10-13',8500],['2018-10-17',10300],['2018-10-17',9300],
  ['2018-11-20',7700],['2018-11-20',7050],['2018-11-20',6500],['2019-01-14',8000],['2019-01-22',6000],['2019-01-24',7200],['2019-01-24',6500],['2019-01-28',5700],
  ['2019-08-11',26200],['2019-08-16',21400],['2019-08-16',19600],['2019-08-16',18800],['2019-08-18',17100],
  ['2020-02-25',28500],['2020-02-29',21800],['2020-02-29',20000],['2020-02-29',18900],['2020-02-29',17400],
  ['2020-07-01',29600],['2020-07-05',23500],['2020-07-05',21600],['2020-07-05',20400],['2020-07-05',18600],['2020-07-15',29000],['2020-07-21',24200],['2020-07-21',21800],['2020-07-21',18900],
  ['2020-09-14',32900],['2020-09-16',23800],['2020-09-16',21600],['2020-09-16',19400],
  ['2021-02-19',122100],['2021-02-27',89200],['2021-02-27',81900],['2021-02-27',75200],['2021-03-21',118700],['2021-03-27',78800],['2021-03-27',72400],['2021-03-29',85100],
  ['2021-09-13',144900],['2021-09-19',95400],['2021-09-19',88400],['2021-09-19',81900],['2021-10-05',143600],['2021-10-11',95400],['2021-10-11',86700],['2021-11-26',93600],['2021-11-26',86700],
  ['2022-02-27',131800],['2022-03-03',101900],['2022-03-05',93600],['2022-03-05',85900],['2022-04-21',124500]
];

// axis ticks
const yearTicks = [2018, 2019, 2020, 2021, 2022];
const profitTicks = [3000,4000,5000,6000,7000,8000,9000,10000,20000,30000,40000,50000,60000,70000,80000,90000,100000,200000];
const riskTicks = [0, 0.2, 0.4, 0.6, 0.8, 1];

const legendLabels = ['BTCUSDT','risk metric','local min','local max','RiskMetricStrategyIdealExtrema','RiskMetricStrategyRealExtrema',
  'RiskMetricStrategyRiskLogic','RiskMetricStrategyCombined','RiskMetricStrategyCombined2','RiskMetricStrategyCombined3','bought','sold'];

const toXY = arr => arr.map(([d, v]) => ({ x: Date.parse(d), y: v }));

function lineDs(label, data, color, order) {
  return { label, data: toXY(data), borderColor: color, backgroundColor: color, borderWidth: 1.5,
    pointRadius: 0, yAxisID: 'y', order, fill: false, tension: 0 };
}
function pointDs(label, data, color, style, rotation, radius, axis, order) {
  return { label, data: toXY(data), showLine: false, pointStyle: style, rotation, pointRadius: radius,
    pointBackgroundColor: color, pointBorderWidth: 0, borderColor: color, backgroundColor: color, yAxisID: axis, order };
}

const datasets = [
  lineDs('BTCUSDT', btcusdt, 'rgba(99,110,250,0.85)', 12),
  { label: 'risk metric', data: toXY(riskMetric), borderColor: '#EF553B', backgroundColor: '#EF553B', borderWidth: 1.5,
    pointRadius: 0, yAxisID: 'y1', order: 11, cubicInterpolationMode: 'monotone' },
  pointDs('local min', localMin, '#0000ff', 'circle', 0, 4, 'y1', 10),
  pointDs('local max', localMax, '#ff0000', 'circle', 0, 4, 'y1', 9),
  lineDs('RiskMetricStrategyIdealExtrema', idealExtrema, '#FFA15A', 8),
  lineDs('RiskMetricStrategyRealExtrema', realExtrema, '#19D3F3', 7),
  lineDs('RiskMetricStrategyRiskLogic', riskLogic, '#FF6692', 6),
  lineDs('RiskMetricStrategyCombined', combined, '#B6E880', 5),
  lineDs('RiskMetricStrategyCombined2', combined2, '#FF97FF', 4),
  lineDs('RiskMetricStrategyCombined3', combined3, '#FECB52', 3),
  pointDs('bought', bought, '#008000', 'triangle', 0, 7, 'y', 2),
  pointDs('sold', sold, '#ff0000', 'triangle', 180, 7, 'y', 1)
];

// legend box inside the plot, drawn under the traces
const boxLegend = {
  id: 'boxLegend',
  beforeDatasetsDraw(chart) {
    const c = chart.ctx;
    c.save();
    c.fillStyle = 'rgba(216,222,222,0.9)';
    c.fillRect(83, 13, 261, 230);
    c.lineWidth = 2;
    c.strokeStyle = '#333';
    c.strokeRect(83, 13, 261, 230);
    c.font = '12.7px "Liberation Mono", monospace';
    c.textBaseline = 'middle';
    legendLabels.forEach((name, i) => {
      const ds = chart.data.datasets.find(d => d.label === name);
      const y = 27.5 + i * 18.64;
      const cx = 96.5;
      c.fillStyle = ds.borderColor;
      c.strokeStyle = ds.borderColor;
      if (ds.showLine !== false) {
        c.lineWidth = 2;
        c.beginPath(); c.moveTo(87, y); c.lineTo(106, y); c.stroke();
      } else if (ds.pointStyle === 'circle') {
        c.beginPath(); c.arc(cx, y, 4, 0, Math.PI * 2); c.fill();
      } else {
        const s = ds.rotation ? -1 : 1;
        c.beginPath();
        c.moveTo(cx, y - 6 * s);
        c.lineTo(cx + 6, y + 4.5 * s);
        c.lineTo(cx - 6, y + 4.5 * s);
        c.closePath(); c.fill();
      }
      c.fillStyle = '#222';
      c.fillText(name, 110, y + 0.5);
    });
    c.restore();
  }
};

// axis titles like the original (right title reads bottom-to-top)
const axisTitles = {
  id: 'axisTitles',
  afterDraw(chart) {
    const c = chart.ctx;
    c.save();
    c.fillStyle = '#111';
    c.font = '18px "Liberation Serif", serif';
    c.textAlign = 'center';
    c.textBaseline = 'middle';
    c.fillText('1d steps', 557, 503);
    c.translate(18, 238);
    c.rotate(-Math.PI / 2);
    c.fillText('Profits in $USD', 0, 0);
    c.restore();
    c.save();
    c.fillStyle = '#111';
    c.font = '18px "Liberation Serif", serif';
    c.textAlign = 'center';
    c.textBaseline = 'middle';
    c.translate(1081, 237);
    c.rotate(-Math.PI / 2);
    c.fillText('Risk Metric Scale', 0, 0);
    c.restore();
  }
};

const gridColor = '#EBF0F8';

new Chart(document.getElementById('chart'), {
  type: 'line',
  data: { datasets },
  options: {
    responsive: true,
    maintainAspectRatio: false,
    animation: false,
    events: [],
    layout: { padding: { top: 6, left: 0, right: 0, bottom: 0 } },
    plugins: { legend: { display: false }, tooltip: { enabled: false } },
    scales: {
      x: {
        type: 'linear',
        min: Date.UTC(2017, 4, 7),
        max: Date.UTC(2022, 7, 4),
        grid: { color: gridColor, drawTicks: false },
        border: { display: false },
        afterBuildTicks: s => { s.ticks = yearTicks.map(y => ({ value: Date.UTC(y, 0, 1) })); },
        afterFit: s => { s.height = 47; s.paddingLeft = 0; s.paddingRight = 0; },
        ticks: {
          autoSkip: false, maxRotation: 0, padding: 5, color: '#222',
          font: { family: '"Liberation Serif", serif', size: 15 },
          callback: v => String(new Date(v).getUTCFullYear())
        }
      },
      y: {
        type: 'logarithmic',
        position: 'left',
        min: 2516,
        max: 204000,
        grid: { color: gridColor, drawTicks: false },
        border: { display: false },
        afterBuildTicks: s => { s.ticks = profitTicks.map(v => ({ value: v })); },
        afterFit: s => { s.width = 73; s.paddingTop = 0; s.paddingBottom = 0; },
        ticks: {
          autoSkip: false, padding: 5,
          color: ctx => (ctx.tick && (ctx.tick.value === 10000 || ctx.tick.value === 100000)) ? '#222' : '#444',
          font: ctx => (ctx.tick && (ctx.tick.value === 10000 || ctx.tick.value === 100000))
            ? { family: '"Liberation Serif", serif', size: 15 }
            : { family: '"Liberation Serif", serif', size: 11 },
          callback: v => v === 10000 ? '10k' : v === 100000 ? '100k' : String(Math.round(v / Math.pow(10, Math.floor(Math.log10(v) + 1e-9))))
        }
      },
      y1: {
        type: 'linear',
        position: 'right',
        min: -0.064,
        max: 1.071,
        grid: { color: gridColor, drawTicks: false },
        border: { display: false },
        afterBuildTicks: s => { s.ticks = riskTicks.map(v => ({ value: v })); },
        afterFit: s => { s.width = 51; s.paddingTop = 0; s.paddingBottom = 0; },
        ticks: {
          autoSkip: false, padding: 5, color: '#222',
          font: { family: '"Liberation Serif", serif', size: 15 },
          callback: v => (v === 0 || v === 1) ? String(v) : v.toFixed(1)
        }
      }
    }
  },
  plugins: [boxLegend, axisTitles]
});
</script>
</body>
</html>
